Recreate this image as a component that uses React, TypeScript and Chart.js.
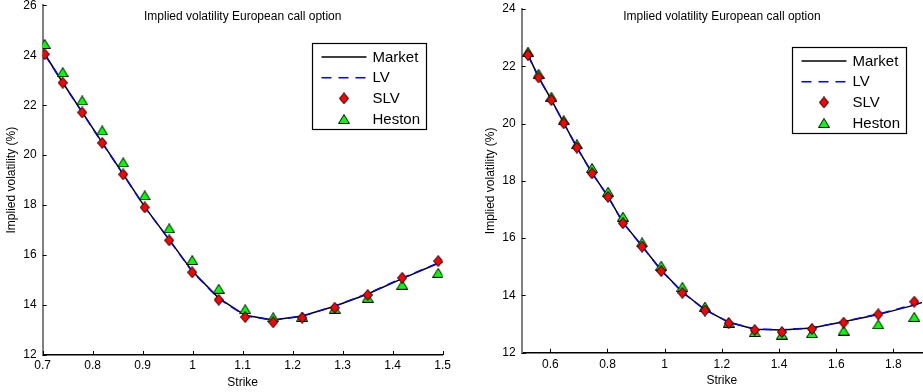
import React, { useEffect, useRef } from "react";
import { Chart, registerables } from "chart.js";

Chart.register(...registerables);

// ---------- shared text ----------
const chartTitle = "Implied volatility European call option";
const xAxisTitle = "Strike";
const yAxisTitle = "Implied volatility (%)";
const legendLabels = ["Market", "LV", "SLV", "Heston"];

// ---------- left panel ----------
const leftStrikes = [0.704, 0.74, 0.779, 0.819, 0.861, 0.904, 0.953, 0.999, 1.052, 1.105, 1.161, 1.219, 1.284, 1.35, 1.419, 1.491];
const leftSLV = [24.04, 22.9, 21.71, 20.49, 19.23, 17.91, 16.59, 15.31, 14.21, 13.52, 13.31, 13.49, 13.89, 14.4, 15.09, 15.76];
const leftHeston = [24.45, 23.32, 22.19, 20.99, 19.71, 18.39, 17.07, 15.8, 14.65, 13.83, 13.51, 13.53, 13.85, 14.29, 14.81, 15.29];
const leftMarketStrikes = [0.704, 0.74, 0.779, 0.819, 0.861, 0.904, 0.953, 0.999, 1.052, 1.105, 1.161, 1.219, 1.284, 1.35, 1.419, 1.491, 1.5];
const leftMarket = [24.05, 22.91, 21.72, 20.5, 19.24, 17.93, 16.62, 15.36, 14.28, 13.59, 13.4, 13.56, 13.95, 14.44, 15.06, 15.67, 15.71];
const leftLV = [24.03, 22.9, 21.71, 20.49, 19.23, 17.92, 16.61, 15.34, 14.26, 13.57, 13.39, 13.55, 13.96, 14.46, 15.08, 15.68, 15.72];
const leftXTicks = [0.7, 0.8, 0.9, 1, 1.1, 1.2, 1.3, 1.4, 1.5];
const leftYTicks = [12, 14, 16, 18, 20, 22, 24, 26];

// ---------- right panel ----------
const rightStrikes = [0.522, 0.559, 0.604, 0.647, 0.693, 0.746, 0.802, 0.854, 0.921, 0.988, 1.062, 1.141, 1.224, 1.315, 1.41, 1.515, 1.626, 1.747, 1.873];
const rightSLV = [22.39, 21.61, 20.82, 20.01, 19.16, 18.26, 17.44, 16.52, 15.7, 14.85, 14.09, 13.47, 13.03, 12.79, 12.72, 12.83, 13.05, 13.34, 13.78];
const rightHeston = [22.51, 21.74, 20.94, 20.12, 19.28, 18.45, 17.62, 16.75, 15.85, 15.04, 14.3, 13.61, 13.05, 12.72, 12.63, 12.68, 12.77, 12.99, 13.25];
const rightMarketStrikes = [0.522, 0.559, 0.604, 0.647, 0.693, 0.746, 0.802, 0.854, 0.921, 0.988, 1.062, 1.141, 1.224, 1.315, 1.41, 1.515, 1.626, 1.747, 1.873, 1.9];
const rightMarket = [22.4, 21.62, 20.83, 20.02, 19.17, 18.28, 17.45, 16.55, 15.72, 14.88, 14.12, 13.5, 13.06, 12.82, 12.79, 12.86, 13.08, 13.33, 13.66, 13.75];
const rightLV = [22.39, 21.61, 20.82, 20.02, 19.17, 18.27, 17.45, 16.54, 15.72, 14.87, 14.11, 13.5, 13.07, 12.83, 12.8, 12.87, 13.09, 13.35, 13.68, 13.76];
const rightXTicks = [0.6, 0.8, 1, 1.2, 1.4, 1.6, 1.8];
const rightYTicks = [12, 14, 16, 18, 20, 22, 24];

const FONT = '"Liberation Sans", Arial, Helvetica, sans-serif';

function makeDiamond(): HTMLCanvasElement {
  const c = document.createElement("canvas");
  c.width = 10;
  c.height = 12;
  const g = c.getContext("2d")!;
  g.beginPath();
  g.moveTo(5, 0.5);
  g.lineTo(9.5, 6);
  g.lineTo(5, 11.5);
  g.lineTo(0.5, 6);
  g.closePath();
  g.fillStyle = "#ff0000";
  g.fill();
  g.strokeStyle = "#000";
  g.lineWidth = 1;
  g.stroke();
  return c;
}

function makeTriangle(): HTMLCanvasElement {
  const c = document.createElement("canvas");
  c.width = 12;
  c.height = 10;
  const g = c.getContext("2d")!;
  g.beginPath();
  g.moveTo(6, 0.5);
  g.lineTo(11.5, 9.5);
  g.lineTo(0.5, 9.5);
  g.closePath();
  g.fillStyle = "#00ff00";
  g.fill();
  g.strokeStyle = "#000";
  g.lineWidth = 1;
  g.stroke();
  return c;
}

const fmt = (v: number) => String(+Number(v).toFixed(2));

type PanelProps = {
  left: number;
  width: number;
  padTop: number;
  padRight: number;
  xHeight: number;
  xTickPad: number;
  xTitlePadBottom: number;
  xMin: number;
  xMax: number;
  yMin: number;
  yMax: number;
  xTicks: number[];
  yTicks: number[];
  strikes: number[];
  slv: number[];
  heston: number[];
  marketStrikes: number[];
  market: number[];
  lv: number[];
};

function Panel(p: PanelProps) {
  const ref = useRef<HTMLCanvasElement>(null);
  useEffect(() => {
    const canvas = ref.current!;
    const diamond = makeDiamond();
    const triangle = makeTriangle();

    const inwardTicks = {
      id: "inwardTicks",
      beforeDatasetsDraw(chart: any) {
        const { ctx, chartArea, scales } = chart;
        const xs = scales.x;
        const ys = scales.y;
        ctx.save();
        ctx.strokeStyle = "#000";
        ctx.lineWidth = 1;
        xs.ticks.forEach((t: any) => {
          const px = Math.round(xs.getPixelForValue(t.value)) + 0.5;
          ctx.beginPath();
          ctx.moveTo(px, chartArea.bottom);
          ctx.lineTo(px, chartArea.bottom - 4);
          ctx.stroke();
        });
        ys.ticks.forEach((t: any) => {
          const py = Math.round(ys.getPixelForValue(t.value)) + 0.5;
          ctx.beginPath();
          ctx.moveTo(chartArea.left, py);
          ctx.lineTo(chartArea.left + 4, py);
          ctx.stroke();
        });
        ctx.restore();
      },
    };

    const overlay = {
      id: "overlay",
      afterDraw(chart: any) {
        const { ctx, chartArea } = chart;
        ctx.save();
        // title
        ctx.fillStyle = "#000";
        ctx.font = `12px ${FONT}`;
        ctx.textAlign = "center";
        ctx.textBaseline = "middle";
        ctx.fillText(chartTitle, (chartArea.left + chartArea.right) / 2, 16.7);
        // legend
        const w = 114;
        const h = 86;
        const bx = Math.round(chartArea.right - 16.5 - w) + 0.5;
        const by = Math.round(chartArea.top + 38) + 0.5;
        ctx.fillStyle = "#fff";
        ctx.fillRect(bx, by, w, h);
        ctx.strokeStyle = "#000";
        ctx.lineWidth = 1.2;
        ctx.strokeRect(bx, by, w, h);
        ctx.font = `15px ${FONT}`;
        ctx.textAlign = "left";
        for (let i = 0; i < legendLabels.length; i++) {
          const ry = by + 13.5 + i * 20.7;
          const lx0 = bx + 9;
          const lx1 = bx + 54;
          if (i === 0) {
            ctx.strokeStyle = "#000";
            ctx.lineWidth = 1.5;
            ctx.setLineDash([]);
            ctx.beginPath();
            ctx.moveTo(lx0, ry);
            ctx.lineTo(lx1, ry);
            ctx.stroke();
          } else if (i === 1) {
            ctx.strokeStyle = "#0000ff";
            ctx.lineWidth = 1.5;
            ctx.setLineDash([10, 7]);
            ctx.beginPath();
            ctx.moveTo(lx0, ry);
            ctx.lineTo(lx1, ry);
            ctx.stroke();
            ctx.setLineDash([]);
          } else {
            const img = i === 2 ? diamond : triangle;
            const cx = (lx0 + lx1) / 2;
            ctx.drawImage(img, cx - img.width / 2, ry - img.height / 2);
          }
          ctx.fillStyle = "#000";
          ctx.fillText(legendLabels[i], bx + 60, ry + 0.5);
        }
        ctx.restore();
      },
    };

    const tickFont = { family: FONT, size: 12 };
    const chart = new Chart(canvas, {
      type: "scatter",
      data: {
        datasets: [
          {
            label: "SLV",
            data: p.strikes.map((x, i) => ({ x, y: p.slv[i] })),
            pointStyle: diamond as any,
            pointRadius: 6,
            showLine: false,
            order: 0,
          },
          {
            label: "Heston",
            data: p.strikes.map((x, i) => ({ x, y: p.heston[i] })),
            pointStyle: triangle as any,
            pointRadius: 6,
            showLine: false,
            order: 1,
          },
          {
            label: "LV",
            data: p.marketStrikes.map((x, i) => ({ x, y: p.lv[i] })),
            showLine: true,
            borderColor: "#0000ff",
            borderWidth: 1.5,
            borderDash: [9, 6],
            pointRadius: 0,
            tension: 0,
            order: 2,
          },
          {
            label: "Market",
            data: p.marketStrikes.map((x, i) => ({ x, y: p.market[i] })),
            showLine: true,
            borderColor: "#000",
            borderWidth: 1.5,
            pointRadius: 0,
            tension: 0,
            order: 3,
          },
        ],
      },
      options: {
        animation: false,
        responsive: false,
        devicePixelRatio: 1,
        layout: { autoPadding: false, padding: { top: p.padTop, right: p.padRight, left: 0, bottom: 0 } },
        plugins: {
          legend: { display: false },
          tooltip: { enabled: false },
          title: { display: false },
        },
        scales: {
          x: {
            type: "linear",
            min: p.xMin,
            max: p.xMax,
            afterBuildTicks: (s: any) => {
              s.ticks = p.xTicks.map((v) => ({ value: v }));
            },
            afterFit: (s: any) => {
              s.height = p.xHeight;
              s.paddingLeft = 0;
              s.paddingRight = 0;
              s.paddingTop = 0;
              s.paddingBottom = 0;
            },
            grid: { display: false, drawTicks: false },
            border: { display: true, color: "#000", width: 1.5 },
            ticks: {
              padding: p.xTickPad,
              font: tickFont,
              color: "#000",
              autoSkip: false,
              maxRotation: 0,
              callback: (v: any) => fmt(v),
            },
            title: {
              display: true,
              text: xAxisTitle,
              font: tickFont,
              color: "#000",
              padding: { top: 0, bottom: p.xTitlePadBottom },
            },
          },
          y: {
            type: "linear",
            min: p.yMin,
            max: p.yMax,
            afterBuildTicks: (s: any) => {
              s.ticks = p.yTicks.map((v) => ({ value: v }));
            },
            afterFit: (s: any) => {
              s.width = 42.7;
              s.paddingLeft = 0;
              s.paddingRight = 0;
              s.paddingTop = 0;
              s.paddingBottom = 0;
            },
            grid: { display: false, drawTicks: false },
            border: { display: true, color: "#808080", width: 2 },
            ticks: {
              padding: 6,
              font: tickFont,
              color: "#000",
              autoSkip: false,
              callback: (v: any) => fmt(v),
            },
            title: {
              display: true,
              text: yAxisTitle,
              font: tickFont,
              color: "#000",
              padding: { top: 4, bottom: 0 },
            },
          },
        },
      },
      plugins: [inwardTicks, overlay],
    } as any);
    return () => chart.destroy();
  }, []);
  return (
    <canvas
      ref={ref}
      width={p.width}
      height={392}
      style={{ position: "absolute", left: p.left, top: 0, width: p.width, height: 392 }}
    />
  );
}

export default function App() {
  return (
    <div style={{ position: "absolute", left: 0, top: 0, width: 923, height: 392, background: "#fff", overflow: "hidden" }}>
      <Panel
        left={0}
        width={460}
        padTop={5.3}
        padRight={17.3}
        xHeight={37}
        xTickPad={3}
        xTitlePadBottom={2.3}
        xMin={0.7}
        xMax={1.5}
        yMin={12}
        yMax={26}
        xTicks={leftXTicks}
        yTicks={leftYTicks}
        strikes={leftStrikes}
        slv={leftSLV}
        heston={leftHeston}
        marketStrikes={leftMarketStrikes}
        market={leftMarket}
        lv={leftLV}
      />
      <Panel
        left={479}
        width={444}
        padTop={9}
        padRight={1}
        xHeight={39.3}
        xTickPad={5}
        xTitlePadBottom={4}
        xMin={0.5}
        xMax={1.9}
        yMin={12}
        yMax={24}
        xTicks={rightXTicks}
        yTicks={rightYTicks}
        strikes={rightStrikes}
        slv={rightSLV}
        heston={rightHeston}
        marketStrikes={rightMarketStrikes}
        market={rightMarket}
        lv={rightLV}
      />
    </div>
  );
}
